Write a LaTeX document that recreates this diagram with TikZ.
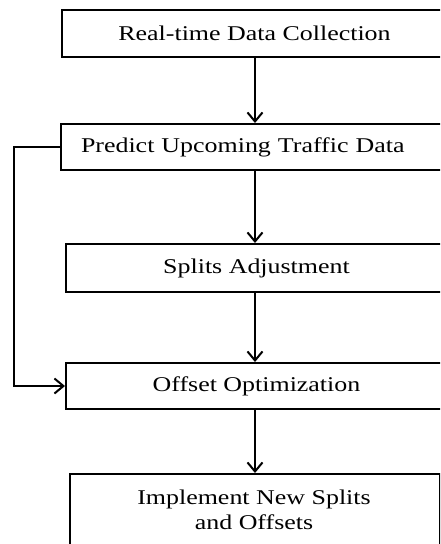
\documentclass[tikz,border=0pt]{standalone}
\usepackage{fontspec}
\setmainfont{Liberation Serif}[FakeStretch=1.235]
\usetikzlibrary{arrows.meta}
\begin{document}
\begin{tikzpicture}[x=1pt,y=-1pt,
  box/.style={draw, line width=2pt, rectangle, anchor=north west, inner sep=0pt,
    font=\fontsize{21}{25}\selectfont},
  conn/.style={line width=2pt, -{Straight Barb[length=9pt,width=15pt,line width=2pt]}}]
\useasboundingbox (0,0) rectangle (440,544);
\clip (0,0) rectangle (440,544);
\node[box, minimum width=385pt, minimum height=47pt] (b1) at (61,9) {Real-time Data Collection};
\node[box, minimum width=386pt, minimum height=46pt, text width=346pt, align=left, inner xsep=20pt] (b2) at (60,123) {Predict Upcoming Traffic Data};
\node[box, minimum width=381pt, minimum height=48pt] (b3) at (65,243) {Splits Adjustment};
\node[box, minimum width=381pt, minimum height=46pt] (b4) at (65,362) {Offset Optimization};
\node[box, minimum width=370pt, minimum height=90pt, anchor=north west] (b5) at (69,473) {};
\node[font=\fontsize{21}{25}\selectfont, align=center] (t5) at (254,510) {Implement New Splits\\and Offsets};
\coordinate (ax) at (255,0);
\coordinate (fb) at (14,0);
\draw[conn] (b1.south -| ax) -- (b2.north -| ax);
\draw[conn] (b2.south -| ax) -- (b3.north -| ax);
\draw[conn] (b3.south -| ax) -- (b4.north -| ax);
\draw[conn] (b4.south -| ax) -- (b5.north -| ax);
\draw[conn] (b2.west) -- (b2.west -| fb) |- (b4.west);
\end{tikzpicture}
\end{document}
